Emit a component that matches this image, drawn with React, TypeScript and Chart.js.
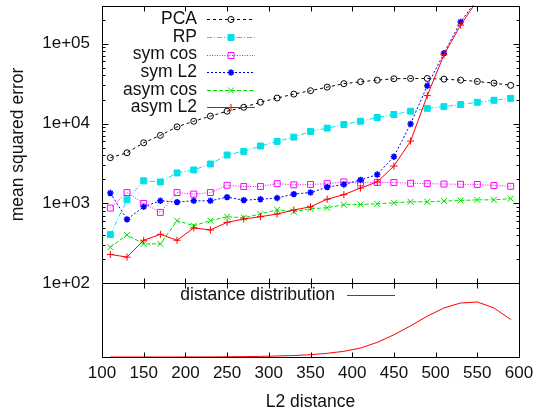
import React, { useEffect, useRef } from 'react';
import { Chart, registerables } from 'chart.js';
import { drawPoint } from 'chart.js/helpers';

Chart.register(...registerables);

const FONT = '"Liberation Sans", Arial, Helvetica, sans-serif';

// L2 distance (x) sample points
const distances = [110, 130, 150, 170, 190, 210, 230, 250, 270, 290, 310, 330, 350, 370, 390, 410, 430, 450, 470, 490, 510, 530, 550, 570, 590];

// mean squared error per method
const pca = [3740, 4310, 5750, 7120, 9100, 10700, 12400, 14300, 16000, 18500, 20900, 23400, 25800, 28600, 31600, 33400, 35000, 36400, 36700, 36700, 36000, 35000, 33700, 32100, 30100];
const rp = [407, 1110, 1920, 1860, 2410, 2630, 3120, 4040, 4490, 5230, 5990, 6770, 7980, 8770, 9750, 10700, 11900, 13000, 14300, 15500, 16300, 17300, 18500, 19600, 20700];
const symCos = [875, 1370, 1000, 773, 1370, 1310, 1370, 1690, 1630, 1630, 1770, 1710, 1730, 1770, 1860, 1810, 1830, 1830, 1790, 1770, 1750, 1740, 1730, 1680, 1640];
const symL2 = [1350, 632, 909, 1080, 1040, 1080, 1080, 1200, 1100, 1130, 1170, 1310, 1370, 1600, 1730, 1970, 2300, 3850, 9900, 29800, 75900, 187000, 364000, 700000, 1200000];
const asymCos = [283, 404, 312, 312, 609, 528, 609, 682, 663, 738, 835, 788, 860, 884, 963, 972, 991, 1020, 1050, 1050, 1070, 1090, 1110, 1110, 1150];
const asymL2 = [230, 213, 346, 411, 346, 494, 466, 580, 639, 682, 738, 828, 909, 1130, 1290, 1560, 1860, 2940, 6040, 22400, 72600, 171000, 350000, 650000, 1100000];

// distance distribution (lower panel, % of pairs)
const distribution = [0, 0, 0, 0, 0, 0.01, 0.01, 0.03, 0.05, 0.08, 0.14, 0.2, 0.31, 0.5, 0.77, 1.22, 1.98, 3.01, 4.23, 5.54, 6.66, 7.33, 7.47, 6.66, 5.09];

// axis ticks
const yTickValues = [100, 1000, 10000, 100000];
const yTickLabels = ['1e+02', '1e+03', '1e+04', '1e+05'];
const xTickStep = 50;

const seriesNames = ['PCA', 'RP', 'sym cos', 'sym L2', 'asym cos', 'asym L2'];
const seriesValues = [pca, rp, symCos, symL2, asymCos, asymL2];
const seriesColors = ['#000000', '#00e0e8', '#ff00ff', '#0000ff', '#00dd00', '#ff0000'];
const seriesDash = [[3, 3], [5, 2, 1, 2], [1, 1.5], [2, 2], [4, 2], []];
const seriesPoint = ['circle', 'rect', 'rect', 'star', 'crossRot', 'cross'];
const seriesRadius = [3, 4.2, 4.2, 3.2, 4.2, 3.5];
const seriesPointWidth = [1, 1, 1, 1.6, 1, 1];
const seriesFilled = [false, true, false, true, false, false];

const framePlugin = {
  id: 'gpFrame',
  afterDatasetsDraw(chart: any) {
    const ctx = chart.ctx;
    const x = chart.scales.x;
    const yU = chart.scales.y;
    const yL = chart.scales.y2;
    const L = Math.round(x.left) + 0.5;
    const R = Math.round(x.right) + 0.5;
    ctx.save();
    ctx.strokeStyle = '#000';
    ctx.lineWidth = 1;
    ctx.setLineDash([]);
    const panels = [yU, yL];
    for (const p of panels) {
      const T = Math.round(p.top) + 0.5;
      const B = Math.round(p.bottom) + 0.5;
      ctx.strokeRect(L, T, R - L, B - T);
      ctx.beginPath();
      for (let v = x.min + xTickStep; v < x.max; v += xTickStep) {
        const px = Math.round(x.getPixelForValue(v)) + 0.5;
        ctx.moveTo(px, T);
        ctx.lineTo(px, T + 5);
        ctx.moveTo(px, B);
        ctx.lineTo(px, B - 5);
      }
      ctx.stroke();
    }
    ctx.beginPath();
    for (const d of yTickValues) {
      const py = Math.round(yU.getPixelForValue(d)) + 0.5;
      ctx.moveTo(L, py);
      ctx.lineTo(L + 6, py);
      ctx.moveTo(R, py);
      ctx.lineTo(R - 6, py);
      for (let m = 2; m <= 9; m++) {
        const v = d * m;
        if (v >= yU.max) break;
        const pm = Math.round(yU.getPixelForValue(v)) + 0.5;
        ctx.moveTo(L, pm);
        ctx.lineTo(L + 3, pm);
        ctx.moveTo(R, pm);
        ctx.lineTo(R - 3, pm);
      }
    }
    ctx.stroke();
    ctx.restore();
  },
};

const legendPlugin = {
  id: 'gpLegend',
  afterDraw(chart: any) {
    const ctx = chart.ctx;
    const yU = chart.scales.y;
    const yL = chart.scales.y2;
    const left = chart.scales.x.left;
    ctx.save();
    ctx.font = `17.5px ${FONT}`;
    ctx.textAlign = 'right';
    ctx.textBaseline = 'middle';
    chart.data.datasets.forEach((ds: any) => {
      const row = ds.legendRow;
      let ty: number, tx: number, x0: number, x1: number;
      if (ds.yAxisID === 'y2') {
        ty = yL.top + 12;
        tx = left + 233;
        x0 = left + 245;
        x1 = left + 293;
      } else {
        ty = yU.top + 13.7 + row * 17.6;
        tx = left + 95;
        x0 = left + 105;
        x1 = left + 153;
      }
      ctx.fillStyle = '#111';
      ctx.fillText(ds.label, tx, ty);
      ctx.strokeStyle = ds.borderColor;
      ctx.lineWidth = ds.borderWidth;
      ctx.setLineDash(ds.borderDash || []);
      ctx.beginPath();
      ctx.moveTo(x0, Math.round(ty) + 0.5);
      ctx.lineTo(x1, Math.round(ty) + 0.5);
      ctx.stroke();
      ctx.setLineDash([]);
      if (ds.pointRadius > 0) {
        ctx.fillStyle = ds.pointBackgroundColor;
        ctx.strokeStyle = ds.pointBorderColor;
        ctx.lineWidth = ds.pointBorderWidth;
        drawPoint(ctx, { pointStyle: ds.pointStyle, rotation: 0, radius: ds.pointRadius, borderWidth: ds.pointBorderWidth }, (x0 + x1) / 2, Math.round(ty) + 0.5);
      }
    });
    ctx.restore();
  },
};

export default function App() {
  const ref = useRef<HTMLCanvasElement | null>(null);
  useEffect(() => {
    if (!ref.current) return;
    const datasets: any[] = seriesNames.map((name, i) => ({
      label: name,
      legendRow: i,
      data: distances.map((d, j) => ({ x: d, y: seriesValues[i][j] })),
      yAxisID: 'y',
      borderColor: seriesColors[i],
      borderWidth: 1,
      borderDash: seriesDash[i],
      pointStyle: seriesPoint[i],
      pointRadius: seriesRadius[i],
      pointBorderWidth: seriesPointWidth[i],
      pointBorderColor: seriesColors[i],
      pointBackgroundColor: seriesFilled[i] ? seriesColors[i] : 'rgba(0,0,0,0)',
      fill: false,
      tension: 0,
      order: 10 - i,
    }));
    datasets.push({
      label: 'distance distribution',
      legendRow: 0,
      data: distances.map((d, j) => ({ x: d, y: distribution[j] })),
      yAxisID: 'y2',
      borderColor: '#ff0000',
      borderWidth: 1,
      borderDash: [],
      pointRadius: 0,
      fill: false,
      tension: 0,
      order: 0,
    });
    const tickFont = { family: FONT, size: 17 };
    const titleFont = { family: FONT, size: 17.5 };
    const chart = new Chart(ref.current, {
      type: 'line',
      data: { datasets },
      options: {
        responsive: false,
        animation: false,
        devicePixelRatio: 1,
        layout: { padding: { top: 4, right: 21, left: 0, bottom: 0 } },
        plugins: { legend: { display: false }, tooltip: { enabled: false } },
        scales: {
          x: {
            type: 'linear',
            position: 'bottom',
            min: 100,
            max: 600,
            grid: { display: false, drawTicks: false },
            border: { display: false },
            ticks: { stepSize: xTickStep, padding: 6, color: '#111', font: tickFont, maxRotation: 0, autoSkip: false },
            title: { display: true, text: 'L2 distance', color: '#111', font: titleFont, padding: { top: 0, bottom: 3.5 } },
            afterFit: (s: any) => { s.height = 59; s.paddingLeft = 0; s.paddingRight = 0; },
          },
          y2: {
            type: 'linear',
            position: 'left',
            stack: 'v',
            stackWeight: 74,
            min: 0,
            max: 10,
            grid: { display: false, drawTicks: false },
            border: { display: false },
            ticks: { display: false },
            afterFit: (s: any) => { s.width = 102; s.paddingTop = 0; s.paddingBottom = 0; },
          },
          y: {
            type: 'logarithmic',
            position: 'left',
            stack: 'v',
            stackWeight: 279,
            min: 100,
            max: 300000,
            grid: { display: false, drawTicks: false },
            border: { display: false },
            afterBuildTicks: (s: any) => { s.ticks = yTickValues.map((v) => ({ value: v })); },
            ticks: {
              padding: 12,
              color: '#111',
              font: tickFont,
              autoSkip: false,
              callback: (v: any) => { const k = yTickValues.indexOf(Number(v)); return k >= 0 ? yTickLabels[k] : ''; },
            },
            title: { display: true, text: 'mean squared error', color: '#111', font: titleFont, padding: { top: 8, bottom: 0 } },
            afterFit: (s: any) => { s.width = 102; s.paddingTop = 0; s.paddingBottom = 0; },
          },
        },
      } as any,
      plugins: [framePlugin, legendPlugin],
    });
    return () => chart.destroy();
  }, []);
  return (
    <div style={{ position: 'fixed', left: 0, top: 0, width: 540, height: 416, background: '#fff' }}>
      <canvas ref={ref} width={540} height={416} style={{ width: 540, height: 416, display: 'block' }} />
    </div>
  );
}
